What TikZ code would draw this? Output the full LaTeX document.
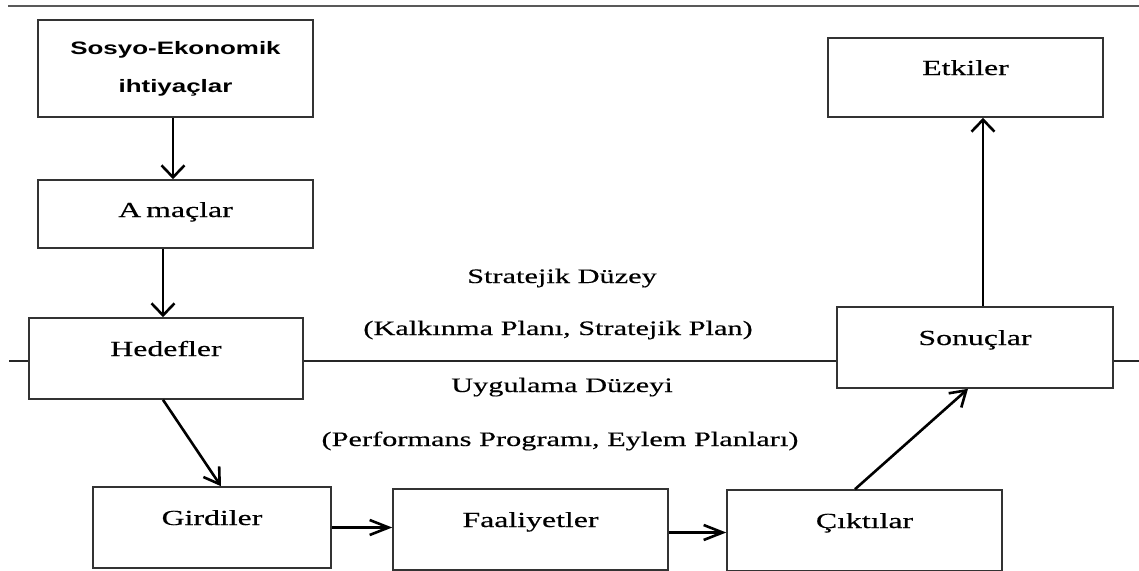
\documentclass[tikz,border=0pt]{standalone}
\usepackage{fontspec}
\usepackage{graphicx}
\usetikzlibrary{arrows.meta}
\newfontfamily\serifw[FakeStretch=1.48, FakeBold=0.4]{Liberation Serif}
\newfontfamily\sansw{Liberation Sans}
% horizontally widened bold sans line
\newcommand\widebold[1]{\scalebox{1.44}[1]{\sansw\bfseries #1}}

\begin{document}
\begin{tikzpicture}[x=1pt,y=-1pt,
  box/.style={draw=black!80, line width=1.6pt, inner sep=0pt,
    minimum width=275pt, minimum height=81pt,
    font=\serifw\fontsize{21.5}{25}\selectfont,
    text height=15pt, text depth=20pt},
  level/.style={font=\serifw\fontsize{20.5}{24}\selectfont, inner sep=0pt, anchor=base},
  flow/.style={line width=2.6pt, line cap=butt},
  vflow/.style={flow, -{Straight Barb[length=12pt,width=23pt]}},
  hflow/.style={flow, -{Straight Barb[length=19pt,width=15pt]}},
  dflow/.style={flow, -{Straight Barb[length=15pt,width=19pt]}},
  divider/.style={draw=black!85, line width=1.5pt}]

\useasboundingbox (0,0) rectangle (1139,570);

% frame line at the top of the page
\draw[draw=black!65, line width=2.2pt] (8,6) -- (1139,6);

% boxes of the strategic level
\node[box, minimum height=97pt, align=center, text height=, text depth=,
      font=\sansw\bfseries\fontsize{18}{38}\selectfont]
  (sosyo) at (175.5,68.5) {\widebold{Sosyo-Ekonomik}\\\widebold{ihtiyaçlar}};
\node[box, minimum height=68pt, text height=15pt, text depth=9pt]
  (amac) at (175.5,214) {A\kern5pt maçlar};
\node[box, minimum width=274pt] (hedef) at (166,358.5) {Hedefler};
\node[box, minimum height=79pt] (etki) at (965.5,77.5) {Etkiler};
\node[box, minimum width=276pt] (sonuc) at (975,347.5) {Sonuçlar};

% boxes of the implementation level
\node[box, minimum width=238pt] (girdi) at (212,527.5) {Girdiler};
\node[box] (faal) at (530.5,529.5) {Faaliyetler};
\node[box] (cikti) at (864.5,530.5) {Çıktılar};

% dividing line between the two levels
\coordinate (lineL) at (9,361);
\coordinate (lineR) at (1139,361);
\draw[divider] (lineL) -- (lineL -| hedef.west);
\draw[divider] (hedef.east |- lineL) -- (sonuc.west |- lineL);
\draw[divider] (sonuc.east |- lineL) -- (lineR);

% level captions
\node[level] (strat) at (562,283) {Stratejik Düzey};
\node[level] (stratdoc) at (558,335) {(Kalkınma Planı, Stratejik Plan)};
\node[level] (uyg) at (562,392) {Uygulama Düzeyi};
\node[level] (uygdoc) at (560,446) {(Performans Programı, Eylem Planları)};

% flow of the logic model
\draw[vflow] ([xshift=-2.5pt]sosyo.south) -- ([xshift=-2.5pt]amac.north);
\draw[vflow] ([xshift=-12.5pt]amac.south) -- ([xshift=-3pt]hedef.north);
\draw[dflow] ([xshift=-3pt]hedef.south) -- ([xshift=9pt]girdi.north);
\draw[hflow] (girdi.east) -- (girdi.east -| faal.west);
\draw[hflow] ([yshift=-3pt]faal.east) -- ([yshift=-3pt]faal.east -| cikti.west);
\draw[dflow] ([xshift=-9.5pt]cikti.north) -- ([xshift=-7pt]sonuc.south);
\draw[vflow] ([xshift=8pt]sonuc.north) -- ([xshift=8pt]sonuc.north |- etki.south);
\end{tikzpicture}
\end{document}
